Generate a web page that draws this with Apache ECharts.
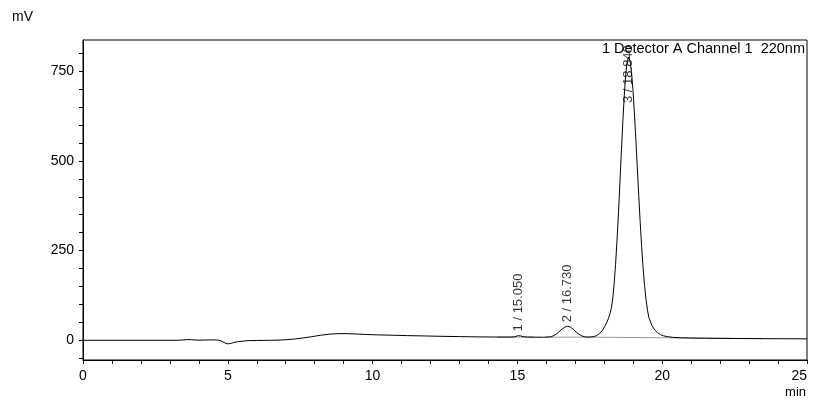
<!DOCTYPE html>
<html><head><meta charset="utf-8">
<script src="https://cdn.jsdelivr.net/npm/echarts@6/dist/echarts.min.js"></script>
<style>html,body{margin:0;padding:0;background:#fff}#c{width:826px;height:404px}</style>
</head><body><div id="c"></div>
<script>
// retention times (min) and detector signal (mV)
const times = [0,1,2,3,3.3,3.45,3.6,3.75,3.9,4.1,4.4,4.6,4.7,4.8,4.9,5.0,5.1,5.2,5.35,5.5,5.7,6.0,6.5,6.8,7.0,7.3,7.6,7.9,8.2,8.5,8.8,9.1,9.4,9.8,10.2,10.7,11.2,11.8,12.4,13.0,13.6,14.2,14.7,14.9,15.0,15.05,15.1,15.2,15.35,15.6,15.9,16.13,16.23,16.33,16.43,16.53,16.63,16.73,16.83,16.93,17.03,17.13,17.23,17.33,17.44,17.54,17.64,17.74,17.84,17.94,18.04,18.14,18.19,18.24,18.29,18.34,18.39,18.44,18.49,18.54,18.59,18.64,18.69,18.74,18.79,18.84,18.89,18.94,18.99,19.04,19.09,19.14,19.19,19.24,19.29,19.34,19.39,19.44,19.49,19.54,19.64,19.74,19.84,19.94,20.04,20.19,20.39,20.64,21.0,21.5,22.5,23.5,24.2,25];
const signal = [0,0,0,0,0,1,2,1.5,0.5,0.5,1,1,0,-3,-7.5,-10,-9,-6.5,-4,-2.5,-1,-0.5,0,0.5,1.5,3.5,6.5,10,14,17,18.5,18.5,17.5,16,15,14,13,12,11,10.2,9.5,9,8.8,9.5,12.5,13.5,12.5,10,9,8.6,8.5,9.5,12,16.5,23,30.5,36.5,39,36.5,30.5,23,16.5,12,9.5,8.8,9.2,10.5,13,19,28,42,60,72,88,115,157,212,279,355,439,525,608,682,740,777,790,779,748,698,634,560,482,403,329,261,202,153,115,85,63,42,29,21,16,12.5,10,8,7,6.2,5.6,5,4.5,4.2,4];

// integrated peaks
const peakNames = ['1 / 15.050', '2 / 16.730', '3 / 18.840'];
const peakTimes = [15.05, 16.73, 18.84];
const peakHeights = [13.5, 39, 790];

// integration baselines: start and end points [time, value]
const baseStart = [[14.3, 9.0], [15.95, 8.5], [17.42, 8.8]];
const baseEnd   = [[15.6, 8.6], [17.42, 8.8], [23.5, 4.5]];

// axis ticks
const xTicks = [0,1,2,3,4,5,6,7,8,9,10,11,12,13,14,15,16,17,18,19,20,21,22,23,24,25];
const xLabels = [0,5,10,15,20,25];
const yTicks = [-50,0,50,100,150,200,250,300,350,400,450,500,550,600,650,700,750,800];
const yLabels = [0,250,500,750];

const Y_MIN = -55, Y_MAX = 837;
const FONT = '"Liberation Sans", Arial, Helvetica, sans-serif';
const GRID_H = 320;
const LABEL_PX = 67; // rotated label length + gap to the frame, in px
const pxPerUnit = GRID_H / (Y_MAX - Y_MIN);

const chart = echarts.init(document.getElementById('c'), null, {renderer: 'canvas'});

const sigData = times.map((t, i) => [t, signal[i]]);
const baseData = [];
baseStart.forEach((s, i) => {
  baseData.push(s, baseEnd[i], [baseEnd[i][0], '-']);
});
const labelData = peakTimes.map((t, i) => {
  const limit = Y_MAX - LABEL_PX / pxPerUnit;
  return {value: [t, Math.min(peakHeights[i], limit)], name: peakNames[i]};
});

chart.setOption({
  animation: false,
  textStyle: {fontFamily: FONT},
  grid: {left: 83, top: 40, width: 724, height: GRID_H, show: true, borderColor: '#000', borderWidth: 1},
  graphic: [
    {type: 'text', left: 12, top: 10, style: {text: 'mV', fontSize: 14, fill: '#000', fontFamily: FONT}},
    {type: 'text', right: 20, top: 386, style: {text: 'min', fontSize: 13, fill: '#000', fontFamily: FONT}},
    {type: 'text', right: 21, top: 41, z: 10, style: {text: '1 Detector A Channel 1  220nm', fontSize: 14.5, fill: '#000', fontFamily: FONT}}
  ],
  xAxis: {
    type: 'value', min: 0, max: 25,
    axisLine: {onZero: false, lineStyle: {color: '#000', width: 1}},
    axisTick: {customValues: xTicks, length: 4, lineStyle: {color: '#000'}},
    axisLabel: {customValues: xLabels, fontSize: 14, color: '#000', margin: 9, fontFamily: FONT, alignMaxLabel: 'right'},
    splitLine: {show: false}
  },
  yAxis: {
    type: 'value', min: Y_MIN, max: Y_MAX,
    axisLine: {show: true, onZero: false, lineStyle: {color: '#000', width: 1}},
    axisTick: {show: true, customValues: yTicks, length: 4, lineStyle: {color: '#000'}},
    axisLabel: {customValues: yLabels, fontSize: 14, color: '#000', margin: 9, fontFamily: FONT},
    splitLine: {show: false}
  },
  series: [
    {type: 'line', data: baseData, showSymbol: false, symbol: 'none', connectNulls: false,
     lineStyle: {color: '#999', width: 1}, silent: true, z: 1},
    {type: 'line', data: sigData, showSymbol: false, symbol: 'none',
     lineStyle: {color: '#000', width: 1}, silent: true, z: 2},
    {type: 'scatter', data: labelData, symbolSize: 0, silent: true, z: 3,
     label: {show: true, formatter: p => p.name, rotate: 90, position: 'top', distance: 4,
             align: 'left', verticalAlign: 'middle', fontSize: 13, color: '#000', fontFamily: FONT}}
  ]
});
</script>
</body></html>
